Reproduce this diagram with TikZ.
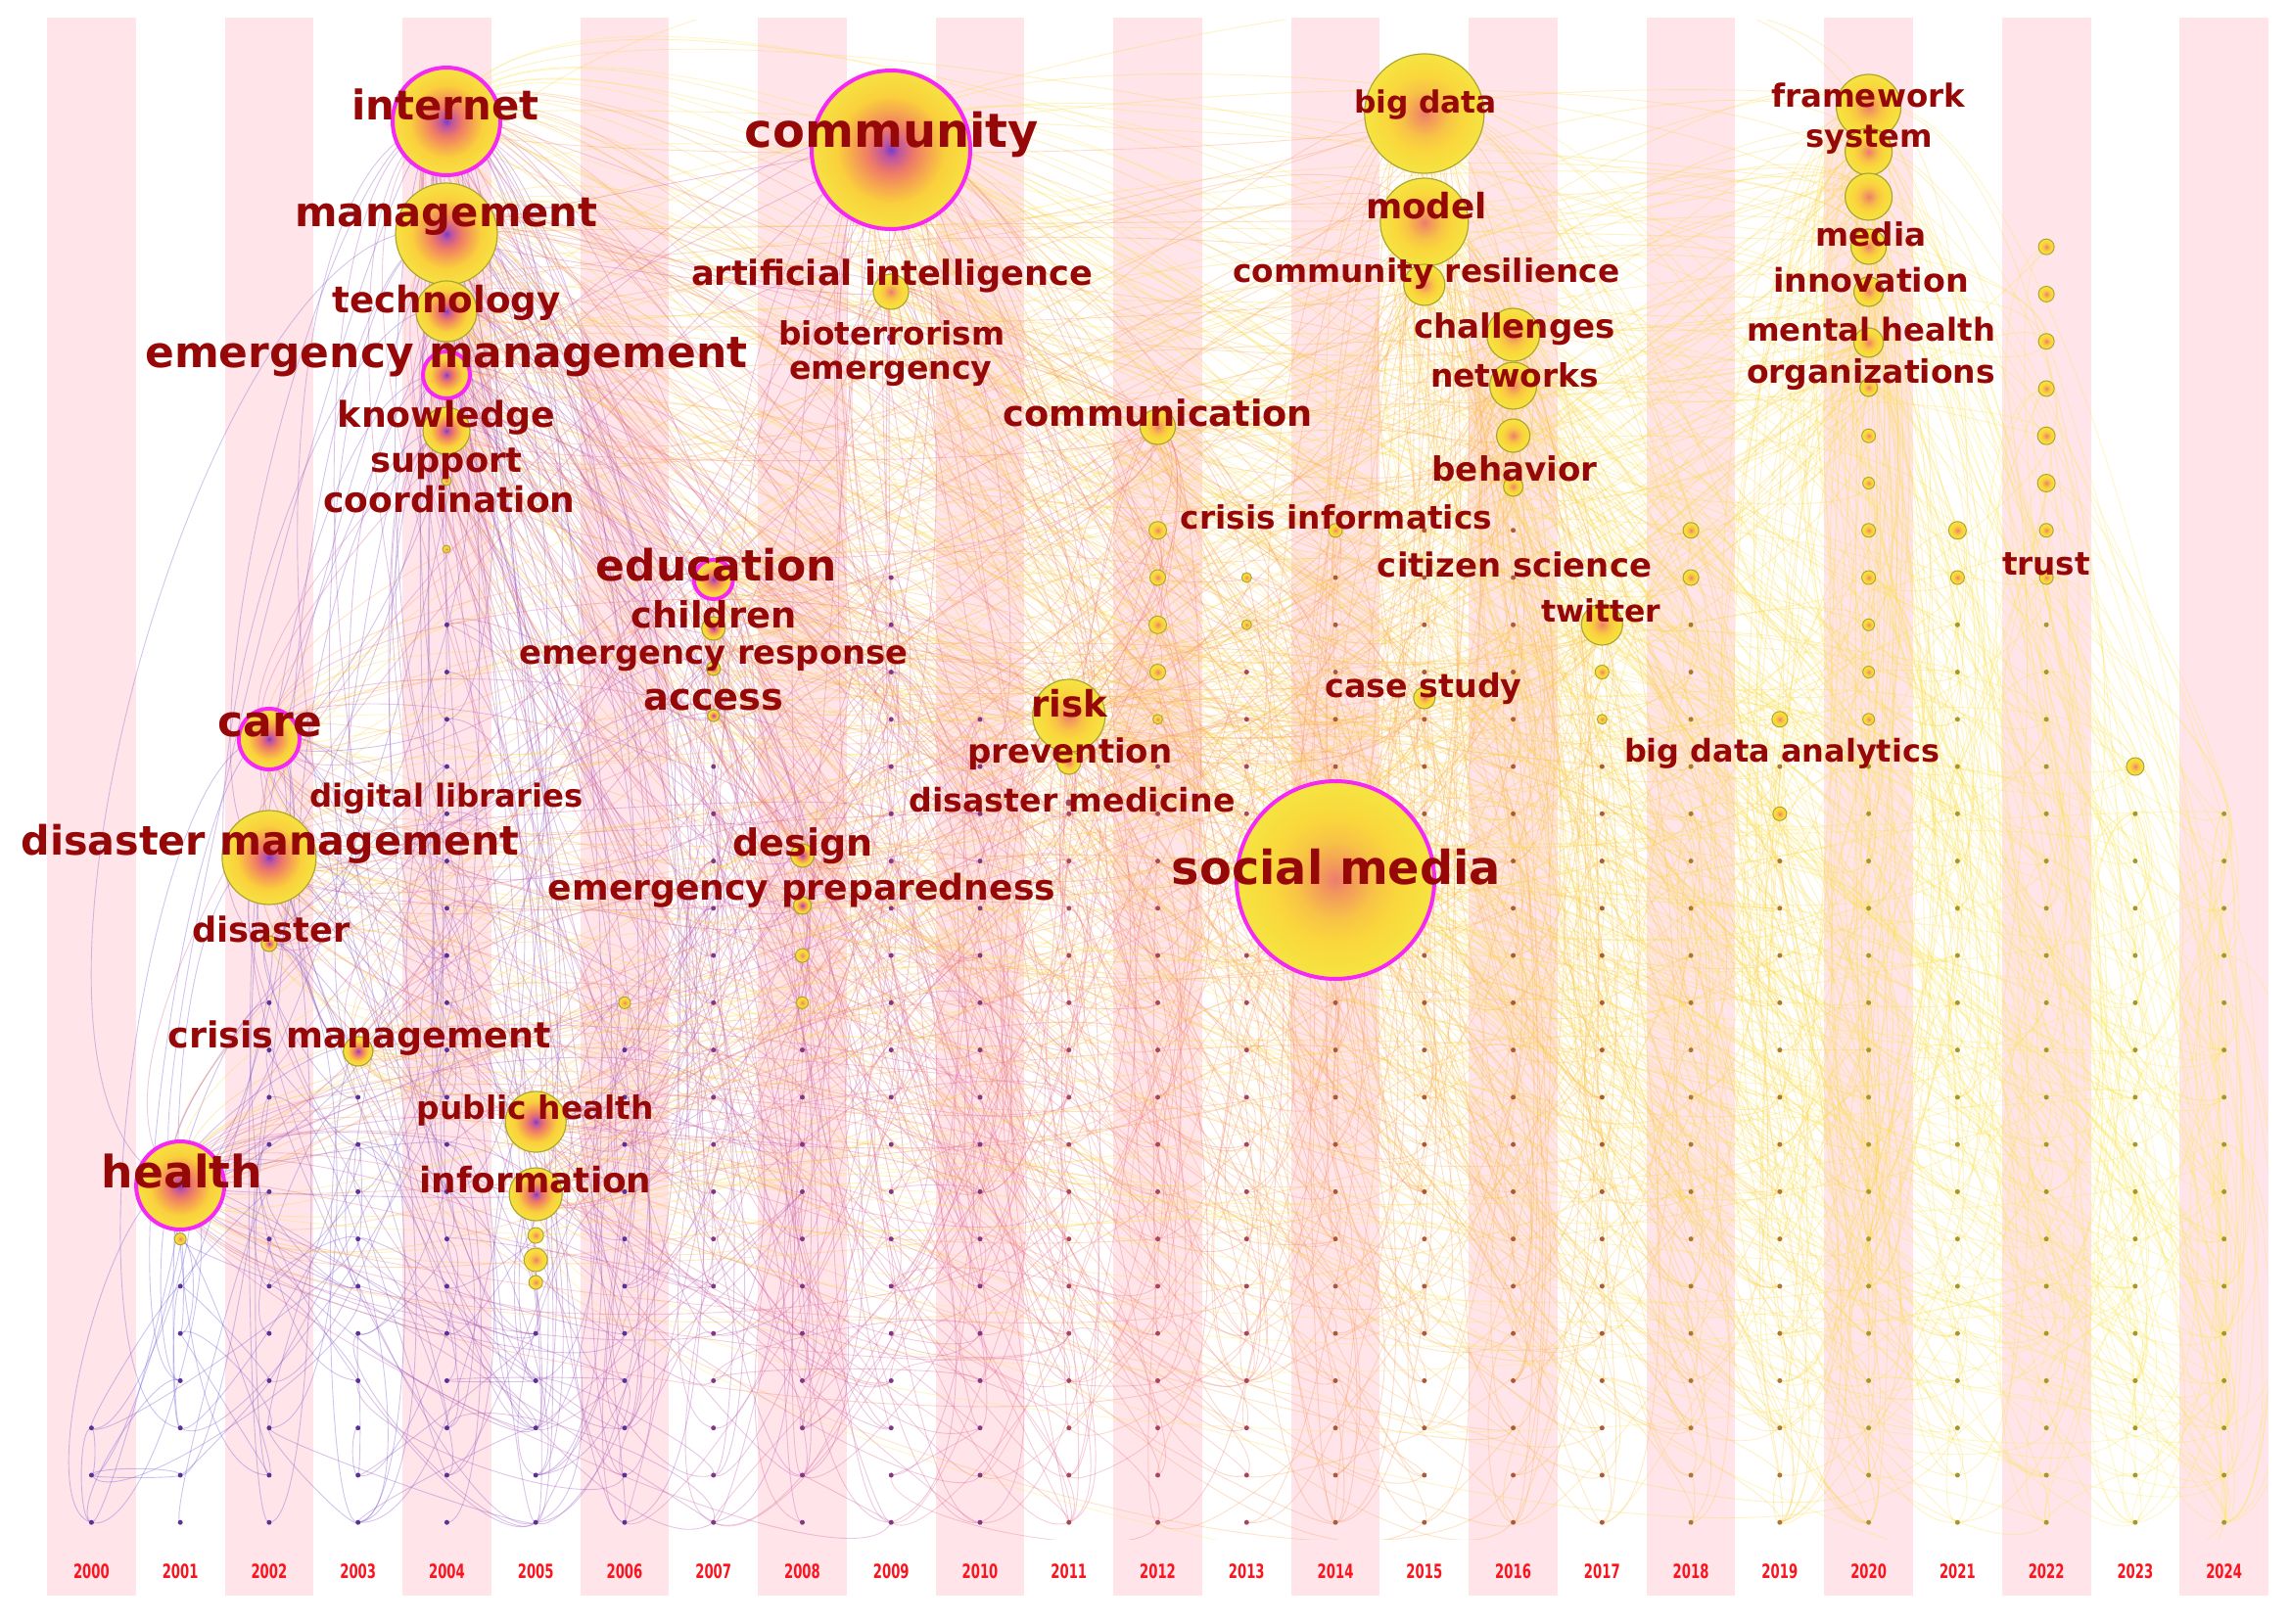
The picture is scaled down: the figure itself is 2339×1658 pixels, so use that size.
\documentclass[tikz,border=0pt]{standalone}
\usepackage{fontspec}
\setmainfont{DejaVu Sans}
\usepackage{graphicx}
\pgfdeclarelayer{bg}
\pgfsetlayers{bg,main}
\definecolor{stripe}{RGB}{255,228,233}
\definecolor{labred}{RGB}{150,8,8}
\definecolor{yrred}{RGB}{250,20,30}
\definecolor{magbd}{RGB}{245,40,245}
\definecolor{olivebd}{RGB}{175,165,45}
\definecolor{rc0}{RGB}{120,60,200}
\definecolor{rc1}{RGB}{190,85,160}
\definecolor{rc2}{RGB}{238,120,105}
\definecolor{rc3}{RGB}{246,165,80}
\definecolor{rc4}{RGB}{250,208,60}
\definecolor{rc5}{RGB}{246,226,66}
\definecolor{rn0}{RGB}{236,125,110}
\definecolor{rn1}{RGB}{243,155,90}
\definecolor{rn2}{RGB}{248,195,70}
\definecolor{rn3}{RGB}{250,215,60}
\definecolor{rn4}{RGB}{245,228,66}
\pgfdeclareradialshading{ringold}{\pgfpoint{0bp}{0bp}}{color(0bp)=(rc0); color(2.5bp)=(rc1); color(7bp)=(rc2); color(12bp)=(rc3); color(17bp)=(rc4); color(25bp)=(rc5); color(50bp)=(rc5)}
\pgfdeclareradialshading{ringnew}{\pgfpoint{0bp}{0bp}}{color(0bp)=(rn0); color(4bp)=(rn1); color(10bp)=(rn2); color(16bp)=(rn3); color(25bp)=(rn4); color(50bp)=(rn4)}
\definecolor{yr0}{RGB}{95,75,215}
\definecolor{yr1}{RGB}{100,75,210}
\definecolor{yr2}{RGB}{110,75,205}
\definecolor{yr3}{RGB}{120,75,200}
\definecolor{yr4}{RGB}{130,75,195}
\definecolor{yr5}{RGB}{145,75,190}
\definecolor{yr6}{RGB}{160,75,185}
\definecolor{yr7}{RGB}{175,80,180}
\definecolor{yr8}{RGB}{190,85,175}
\definecolor{yr9}{RGB}{205,90,165}
\definecolor{yr10}{RGB}{215,95,155}
\definecolor{yr11}{RGB}{228,105,145}
\definecolor{yr12}{RGB}{236,115,130}
\definecolor{yr13}{RGB}{242,130,115}
\definecolor{yr14}{RGB}{246,145,100}
\definecolor{yr15}{RGB}{249,160,90}
\definecolor{yr16}{RGB}{251,175,80}
\definecolor{yr17}{RGB}{252,188,75}
\definecolor{yr18}{RGB}{252,198,70}
\definecolor{yr19}{RGB}{252,207,70}
\definecolor{yr20}{RGB}{252,215,70}
\definecolor{yr21}{RGB}{252,221,72}
\definecolor{yr22}{RGB}{252,226,76}
\definecolor{yr23}{RGB}{252,230,80}
\definecolor{yr24}{RGB}{252,233,85}
\definecolor{dcA}{RGB}{90,50,150}
\definecolor{dcB}{RGB}{130,55,130}
\definecolor{dcC}{RGB}{165,70,90}
\definecolor{dcD}{RGB}{170,90,60}
\definecolor{dcE}{RGB}{170,120,50}
\definecolor{dcF}{RGB}{165,150,45}
\colorlet{dc0}{dcA}\colorlet{dc1}{dcA}\colorlet{dc2}{dcA}\colorlet{dc3}{dcA}\colorlet{dc4}{dcA}
\colorlet{dc5}{dcA}\colorlet{dc6}{dcA}\colorlet{dc7}{dcB}\colorlet{dc8}{dcB}\colorlet{dc9}{dcB}
\colorlet{dc10}{dcB}\colorlet{dc11}{dcC}\colorlet{dc12}{dcC}\colorlet{dc13}{dcC}\colorlet{dc14}{dcD}
\colorlet{dc15}{dcD}\colorlet{dc16}{dcD}\colorlet{dc17}{dcD}\colorlet{dc18}{dcE}\colorlet{dc19}{dcE}
\colorlet{dc20}{dcF}\colorlet{dc21}{dcF}\colorlet{dc22}{dcF}\colorlet{dc23}{dcF}\colorlet{dc24}{dcF}
\tikzset{
  hub/.style={circle, inner sep=0pt, shade, shading=ringold, draw=olivebd, line width=1.2pt},
  new/.style={shading=ringnew},
  mag/.style={draw=magbd, line width=4pt},
  small/.style={circle, inner sep=0pt, shade, shading=ringnew, draw=olivebd, line width=1pt},
  dot/.style={circle, inner sep=0pt, minimum size=5pt},
  lnk/.style={line width=0.9pt, draw opacity=0.33},
  lab/.style={text=labred, inner sep=0pt, anchor=center},
  yrlab/.style={text=yrred, inner sep=0pt, font=\fontsize{20}{24}\selectfont\bfseries}
}
\newcommand{\kw}[4]{\node[lab] (#1) at (#2) {\resizebox{#3pt}{!}{\bfseries #4}};}
\def\starts{{28,24,19,21,11,26,19,14,17,10,13,15,9,10,9,9,9,12,9,13,7,9,3,14,15}}
\def\hubcol{{4,4,4,4,4,9,9,12,7,7,2,2,3,5,5,1,8,11,11,14,15,15,15,15,16,16,16,16,17,20,20,20,20,20,20,20,7,7,2,8}}
\def\hubm{{80,55,30,30,25,90,20,25,25,12,30,50,18,30,25,50,12,40,12,80,50,40,18,10,18,18,12,10,18,25,18,18,15,12,12,8,8,8,10,8}}
\def\hubx{{456,456,456,456,456,910,910,1182.5,728.7,728.7,274.9,274.9,365.7,547.2,547.2,184.1,819.5,1091.8,1091.8,1364,1454.8,1454.8,1454.8,1454.8,1545.6,1545.6,1545.6,1545.6,1636.3,1908.6,1908.6,1908.6,1908.6,1908.6,1908.6,1908.6,728.7,728.7,274.9,819.5}}
\def\huby{{124,239,318,383,440,153,298,436,592,642,755,876,1074,1146,1220,1211,874,731,779,899,116,227,291,713,342,394,445,497,638,109,155,201,252,298,350,396,683,731,964,925}}
\begin{document}
\begin{tikzpicture}[x=1pt,y=-1pt]
\useasboundingbox (0,0) rectangle (2339,1658);
% grid dots
\foreach \i in {0,...,24}{
  \pgfmathtruncatemacro{\s}{\starts[\i]}
  \foreach \k in {\s,...,30}{
    \node[dot, fill=dc\i] (d-\i-\k) at ({93.4+90.76*\i},{107.4+48.26*\k}) {};
  }
}
% small circles
\foreach \i/\k/\r in {12/9/9,12/10/8,12/11/9,12/12/8,12/13/5,13/10/5,13/11/5,14/9/7,18/9/8,18/10/8,19/13/8,19/15/7,20/7/7,20/8/6,20/9/7,20/10/7,20/11/6,20/12/6,20/13/6,21/9/9,21/10/7,22/3/8,22/4/8,22/5/8,22/6/8,22/7/9,22/8/9,22/9/7,22/10/7,23/14/9,17/12/7,17/13/5,6/19/6,8/18/7,8/19/6,1/24/6}{
  \node[small, minimum size={2*\r*1pt}] (sp-\i-\k) at ({93.4+90.76*\i},{107.4+48.26*\k}) {};
}
\node[small, minimum size=16pt] (e1) at (547.2,1262) {};
\node[small, minimum size=24pt] (e2) at (547.2,1287) {};
\node[small, minimum size=14pt] (e3) at (547.2,1310) {};
\node[small, minimum size=8pt] (e4) at (456,561) {};
\node[small, minimum size=10pt] (e5) at (456,491) {};
\node[dot, fill=dcB, minimum size=8pt] (e6) at (910,345) {};
\node[dot, fill=dcC, minimum size=7pt] (e7) at (1091.8,820) {};
% keyword nodes
\node[hub,mag,minimum size=110pt] (h0) at (456,124) {};
\node[hub,minimum size=104pt] (h1) at (456,239) {};
\node[hub,minimum size=62pt] (h2) at (456,318) {};
\node[hub,mag,minimum size=48pt] (h3) at (456,383) {};
\node[hub,minimum size=48pt] (h4) at (456,440) {};
\node[hub,mag,minimum size=162pt] (h5) at (910,153) {};
\node[hub,new,minimum size=36pt] (h6) at (910,298) {};
\node[hub,new,minimum size=36pt] (h7) at (1182.5,436) {};
\node[hub,mag,minimum size=40pt] (h8) at (728.7,592) {};
\node[hub,minimum size=24pt] (h9) at (728.7,642) {};
\node[hub,mag,minimum size=62pt] (h10) at (274.9,755) {};
\node[hub,minimum size=96pt] (h11) at (274.9,876) {};
\node[hub,minimum size=30pt] (h12) at (365.7,1074) {};
\node[hub,minimum size=62pt] (h13) at (547.2,1146) {};
\node[hub,minimum size=54pt] (h14) at (547.2,1220) {};
\node[hub,mag,minimum size=90pt] (h15) at (184.1,1211) {};
\node[hub,minimum size=24pt] (h16) at (819.5,874) {};
\node[hub,new,minimum size=74pt] (h17) at (1091.8,731) {};
\node[hub,new,minimum size=24pt] (h18) at (1091.8,779) {};
\node[hub,new,mag,minimum size=202pt] (h19) at (1364,899) {};
\node[hub,new,minimum size=122pt] (h20) at (1454.8,116) {};
\node[hub,new,minimum size=90pt] (h21) at (1454.8,227) {};
\node[hub,new,minimum size=42pt] (h22) at (1454.8,291) {};
\node[hub,new,minimum size=22pt] (h23) at (1454.8,713) {};
\node[hub,new,minimum size=54pt] (h24) at (1545.6,342) {};
\node[hub,new,minimum size=48pt] (h25) at (1545.6,394) {};
\node[hub,new,minimum size=34pt] (h26) at (1545.6,445) {};
\node[hub,new,minimum size=20pt] (h27) at (1545.6,497) {};
\node[hub,new,minimum size=42pt] (h28) at (1636.3,638) {};
\node[hub,new,minimum size=66pt] (h29) at (1908.6,109) {};
\node[hub,new,minimum size=48pt] (h30) at (1908.6,155) {};
\node[hub,new,minimum size=48pt] (h31) at (1908.6,201) {};
\node[hub,new,minimum size=36pt] (h32) at (1908.6,252) {};
\node[hub,new,minimum size=30pt] (h33) at (1908.6,298) {};
\node[hub,new,minimum size=30pt] (h34) at (1908.6,350) {};
\node[hub,new,minimum size=18pt] (h35) at (1908.6,396) {};
\node[hub,minimum size=14pt] (h36) at (728.7,683) {};
\node[hub,minimum size=12pt] (h37) at (728.7,731) {};
\node[hub,minimum size=16pt] (h38) at (274.9,964) {};
\node[hub,minimum size=18pt] (h39) at (819.5,925) {};
% labels
\kw{l0}{455,107}{191}{internet}
\kw{l1}{456,221}{309}{management}
\kw{l2}{456,309}{233}{technology}
\kw{l3}{456,365}{615}{emergency management}
\kw{l4}{456,427}{222}{knowledge}
\kw{l5}{456,474}{155}{support}
\kw{l6}{459,510}{257}{coordination}
\kw{l7}{911,137}{300}{community}
\kw{l8}{911,282}{410}{artificial intelligence}
\kw{l9}{911,340}{231}{bioterrorism}
\kw{l10}{910,382}{207}{emergency}
\kw{l11}{1183,422}{316}{communication}
\kw{l12}{732,577}{246}{education}
\kw{l13}{729,628}{169}{children}
\kw{l14}{729,673}{397}{emergency response}
\kw{l15}{729,715}{143}{access}
\kw{l16}{276,741}{107}{care}
\kw{l17}{456,816}{279}{digital libraries}
\kw{l18}{276,862}{509}{disaster management}
\kw{l19}{277,949}{161}{disaster}
\kw{l20}{367,1061}{391}{crisis management}
\kw{l21}{547,1134}{242}{public health}
\kw{l22}{547,1205}{237}{information}
\kw{l23}{186,1196}{164}{health}
\kw{l24}{820,864}{143}{design}
\kw{l25}{819,910}{518}{emergency preparedness}
\kw{l26}{1092,719}{78}{risk}
\kw{l27}{1093,770}{209}{prevention}
\kw{l28}{1095,817}{333}{disaster medicine}
\kw{l29}{1365,886}{336}{social media}
\kw{l30}{1365,528}{318}{crisis informatics}
\kw{l31}{1456,107}{146}{big data}
\kw{l32}{1457,210}{124}{model}
\kw{l33}{1457,280}{395}{community resilience}
\kw{l34}{1547,336}{206}{challenges}
\kw{l35}{1547,383}{172}{networks}
\kw{l36}{1547,479}{169}{behavior}
\kw{l37}{1547,577}{280}{citizen science}
\kw{l38}{1454,703}{201}{case study}
\kw{l39}{1635,624}{122}{twitter}
\kw{l40}{1820,770}{322}{big data analytics}
\kw{l41}{1908,97}{198}{framework}
\kw{l42}{1909,143}{130}{system}
\kw{l43}{1911,239}{113}{media}
\kw{l44}{1911,286}{200}{innovation}
\kw{l45}{1911,336}{254}{mental health}
\kw{l46}{1911,383}{254}{organizations}
\kw{l47}{2090,576}{90}{trust}
\begin{pgfonlayer}{bg}
\fill[white] (0,0) rectangle (2339,1658);
\foreach \i in {0,2,...,24}{
  \fill[stripe] ({48+90.76*\i},18) rectangle ({48+90.76*(\i+1)},1630);
}
\foreach \i in {0,...,24}{
  \pgfmathtruncatemacro{\yr}{2000+\i}
  \node[yrlab] (yl\i) at ({93.4+90.76*\i},1605) {\scalebox{0.66}[1]{\yr}};
}
\begin{scope}
\clip (50,20) rectangle (2316,1572);
\pgfmathsetseed{4242}
% local links between dots
\foreach \n in {1,...,1400}{
  \pgfmathrandominteger{\a}{0}{24}
  \pgfmathrandominteger{\ra}{0}{30}
  \pgfmathtruncatemacro{\sa}{\starts[\a]}
  \ifnum\ra<\sa\relax\else
    \pgfmathrandominteger{\dd}{-1}{3}
    \pgfmathtruncatemacro{\b}{max(0,min(24,\a+\dd))}
    \pgfmathtruncatemacro{\sb}{\starts[\b]}
    \pgfmathrandominteger{\rb}{\sb}{30}
    \pgfmathtruncatemacro{\cc}{max(\a,\b)}
    \pgfmathsetmacro{\f}{(rnd-0.5)*0.4}
    \pgfmathsetmacro{\ox}{-48.26*(\rb-\ra)*\f}
    \pgfmathsetmacro{\oy}{90.76*(\b-\a)*\f}
    \draw[lnk, draw=yr\cc] (d-\a-\ra.center) .. controls +(\ox,\oy) and +(\ox,\oy) .. (d-\b-\rb.center);
  \fi
}
% links from keyword nodes
\foreach \h in {0,...,39}{
  \pgfmathtruncatemacro{\c}{\hubcol[\h]}
  \pgfmathtruncatemacro{\m}{\hubm[\h]}
  \pgfmathsetmacro{\hx}{\hubx[\h]}
  \pgfmathsetmacro{\hy}{\huby[\h]}
  \foreach \n in {1,...,\m}{
    \pgfmathtruncatemacro{\b}{max(0,min(24,\c-1+floor(rnd*(26-\c))))}
    \pgfmathtruncatemacro{\sb}{\starts[\b]}
    \pgfmathrandominteger{\rb}{\sb}{30}
    \pgfmathtruncatemacro{\cc}{max(\c,\b)}
    \pgfmathsetmacro{\f}{(rnd-0.5)*0.4}
    \pgfmathsetmacro{\ox}{-(107.4+48.26*\rb-\hy)*\f}
    \pgfmathsetmacro{\oy}{(93.4+90.76*\b-\hx)*\f}
    \draw[lnk, draw=yr\cc] (h\h.center) .. controls +(\ox,\oy) and +(\ox,\oy) .. (d-\b-\rb.center);
  }
}
% links between keyword nodes
\foreach \n in {1,...,300}{
  \pgfmathrandominteger{\p}{0}{39}
  \pgfmathrandominteger{\q}{0}{39}
  \pgfmathtruncatemacro{\cp}{\hubcol[\p]}
  \pgfmathtruncatemacro{\cq}{\hubcol[\q]}
  \pgfmathtruncatemacro{\cc}{max(\cp,\cq)}
  \pgfmathsetmacro{\xp}{\hubx[\p]}
  \pgfmathsetmacro{\xq}{\hubx[\q]}
  \pgfmathsetmacro{\yp}{\huby[\p]}
  \pgfmathsetmacro{\yq}{\huby[\q]}
  \pgfmathsetmacro{\f}{(rnd-0.5)*0.5}
  \pgfmathsetmacro{\ox}{(\yp-\yq)*\f}
  \pgfmathsetmacro{\oy}{(\xq-\xp)*\f}
  \draw[lnk, draw=yr\cc] (h\p.center) .. controls +(\ox,\oy) and +(\ox,\oy) .. (h\q.center);
}
\end{scope}
\end{pgfonlayer}
\end{tikzpicture}
\end{document}
